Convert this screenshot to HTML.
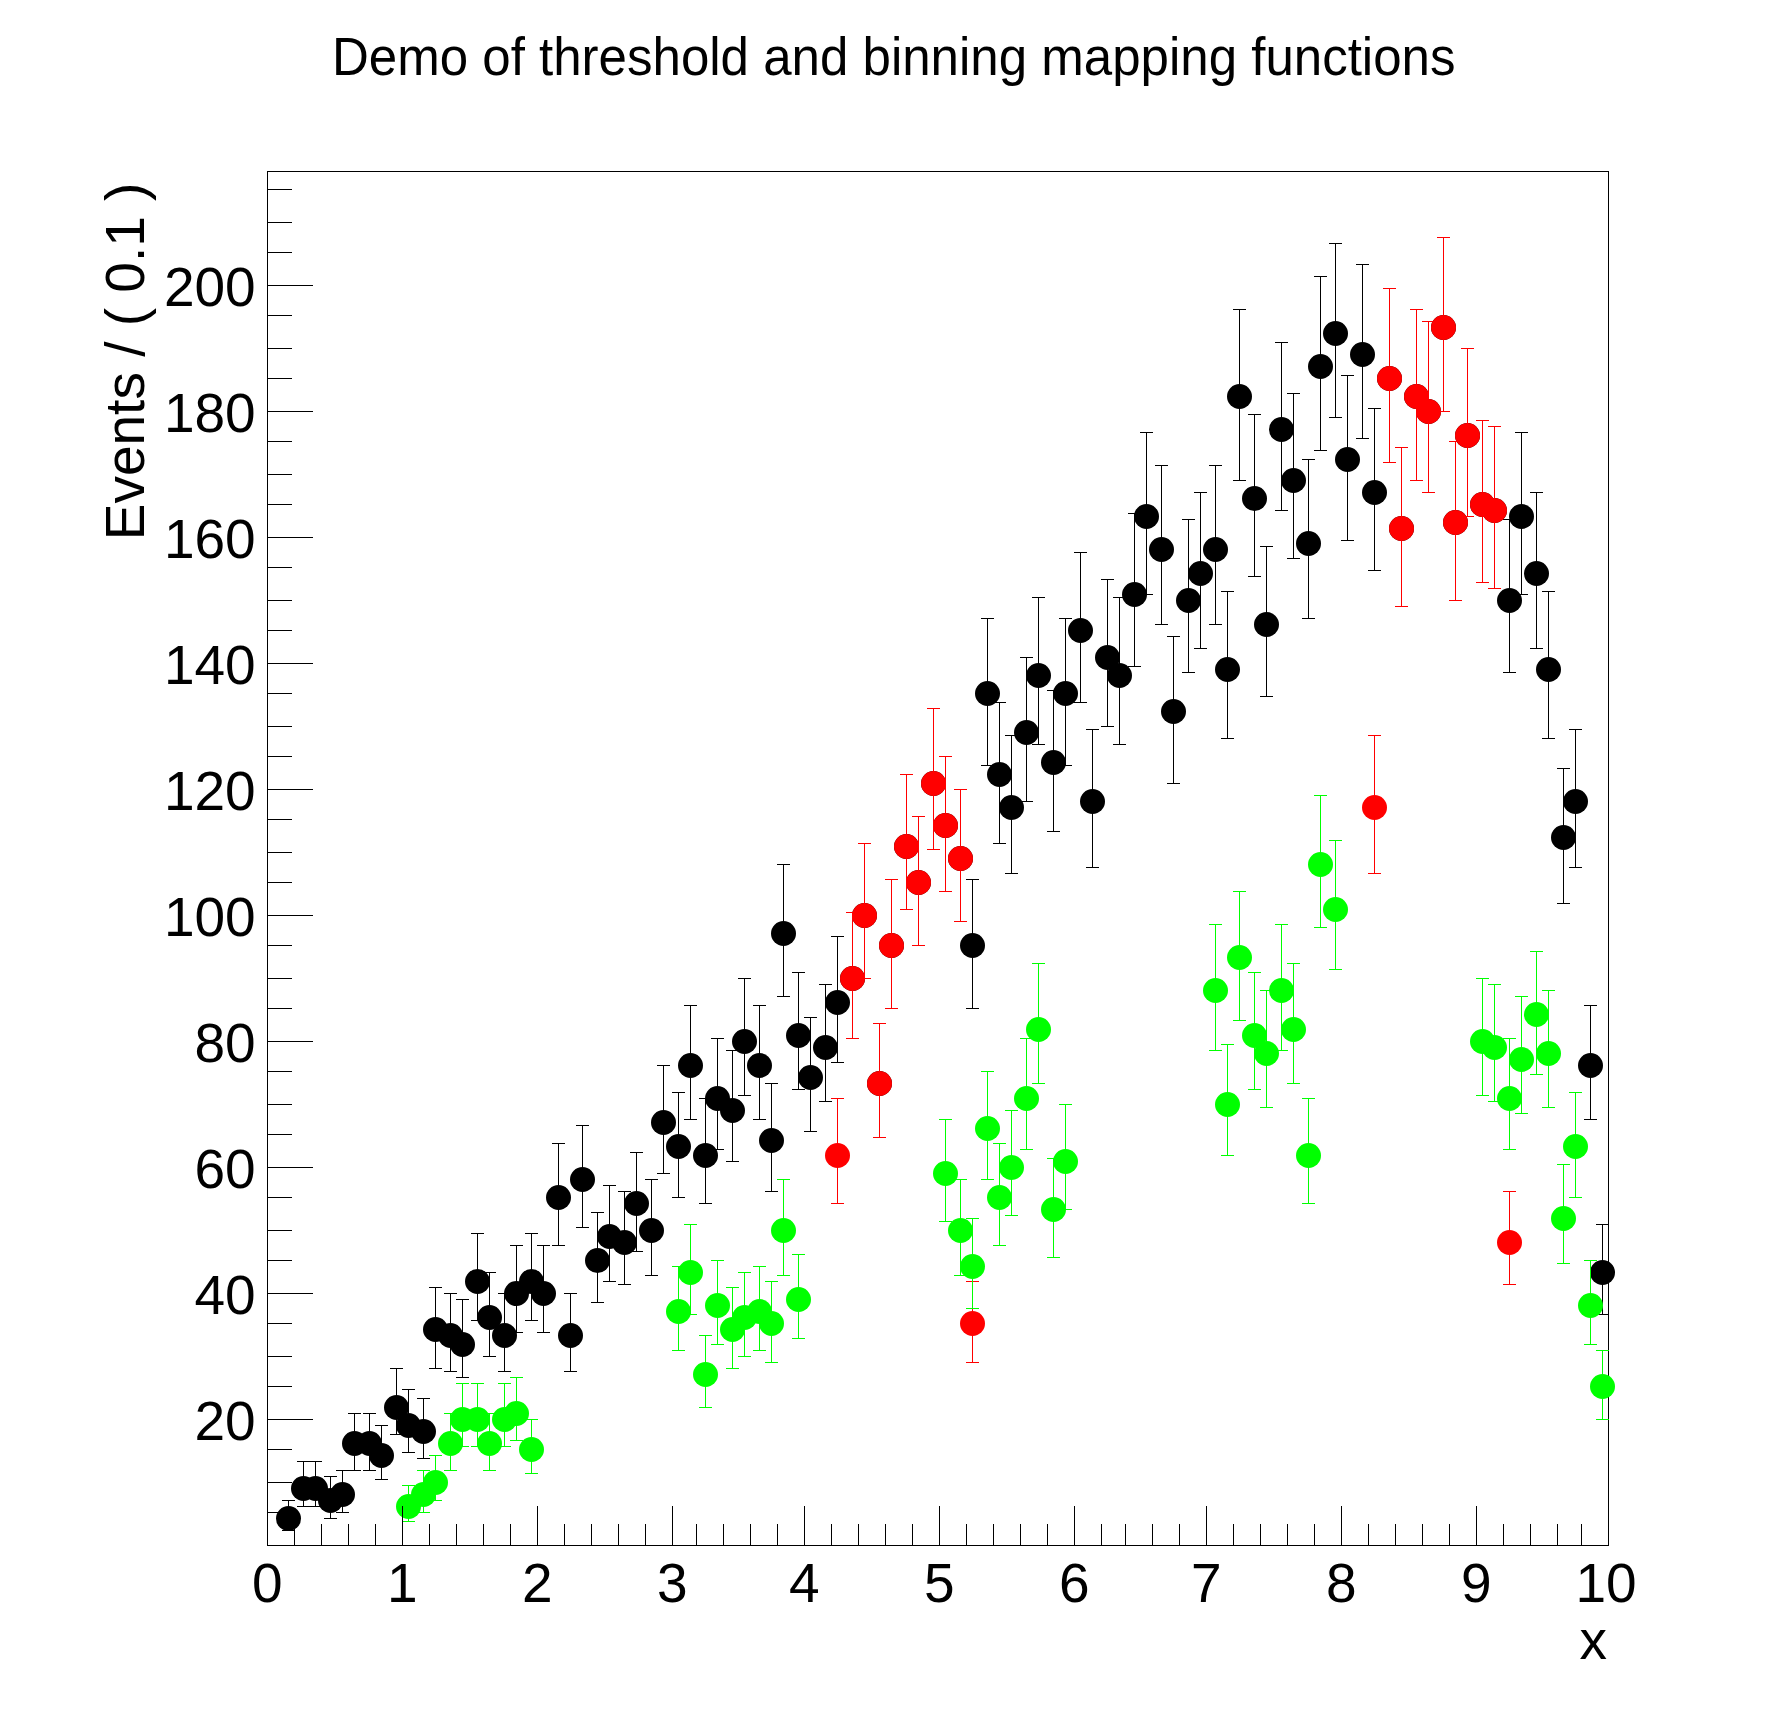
<!DOCTYPE html>
<html><head><meta charset="utf-8"><title>Demo of threshold and binning mapping functions</title>
<style>html,body{margin:0;padding:0;background:#fff;overflow:hidden}svg{display:block}text{font-family:"Liberation Sans",sans-serif;fill:#000}</style></head>
<body>
<svg width="1788" height="1716" viewBox="0 0 1788 1716">
<rect width="1788" height="1716" fill="#fff"/>
<defs><clipPath id="fc"><rect x="267" y="171" width="1342" height="1375"/></clipPath></defs>
<path d="M267.5 171.5H1608.5V1545.5H267.5Z" stroke="#000" stroke-width="1" fill="none" shape-rendering="crispEdges"/>
<path clip-path="url(#fc)" d="M288.5 1500V1531M282.0 1500.5h13M282.0 1530.5h13M303.5 1461V1507M297.0 1461.5h13M297.0 1506.5h13M315.5 1461V1507M309.0 1461.5h13M309.0 1506.5h13M330.5 1476V1519M324.0 1476.5h13M324.0 1518.5h13M342.5 1470V1513M336.0 1470.5h13M336.0 1512.5h13M354.5 1413V1471M348.0 1413.5h13M348.0 1470.5h13M369.5 1413V1471M363.0 1413.5h13M363.0 1470.5h13M381.5 1425V1480M375.0 1425.5h13M375.0 1479.5h13M396.5 1368V1435M390.0 1368.5h13M390.0 1434.5h13M408.5 1389V1453M402.0 1389.5h13M402.0 1452.5h13M423.5 1398V1459M417.0 1398.5h13M417.0 1458.5h13M435.5 1287V1369M429.0 1287.5h13M429.0 1368.5h13M450.5 1293V1372M444.0 1293.5h13M444.0 1371.5h13M462.5 1299V1378M456.0 1299.5h13M456.0 1377.5h13M477.5 1233V1321M471.0 1233.5h13M471.0 1320.5h13M489.5 1272V1357M483.0 1272.5h13M483.0 1356.5h13M504.5 1293V1372M498.0 1293.5h13M498.0 1371.5h13M516.5 1245V1333M510.0 1245.5h13M510.0 1332.5h13M531.5 1233V1321M525.0 1233.5h13M525.0 1320.5h13M543.5 1245V1333M537.0 1245.5h13M537.0 1332.5h13M558.5 1143V1246M552.0 1143.5h13M552.0 1245.5h13M570.5 1293V1372M564.0 1293.5h13M564.0 1371.5h13M582.5 1125V1228M576.0 1125.5h13M576.0 1227.5h13M597.5 1212V1303M591.0 1212.5h13M591.0 1302.5h13M609.5 1185V1282M603.0 1185.5h13M603.0 1281.5h13M624.5 1191V1285M618.0 1191.5h13M618.0 1284.5h13M636.5 1152V1252M630.0 1152.5h13M630.0 1251.5h13M651.5 1179V1276M645.0 1179.5h13M645.0 1275.5h13M663.5 1065V1174M657.0 1065.5h13M657.0 1173.5h13M678.5 1092V1198M672.0 1092.5h13M672.0 1197.5h13M690.5 1005V1120M684.0 1005.5h13M684.0 1119.5h13M705.5 1098V1204M699.0 1098.5h13M699.0 1203.5h13M717.5 1038V1150M711.0 1038.5h13M711.0 1149.5h13M732.5 1050V1162M726.0 1050.5h13M726.0 1161.5h13M744.5 978V1096M738.0 978.5h13M738.0 1095.5h13M759.5 1005V1120M753.0 1005.5h13M753.0 1119.5h13M771.5 1083V1192M765.0 1083.5h13M765.0 1191.5h13M783.5 864V997M777.0 864.5h13M777.0 996.5h13M798.5 972V1090M792.0 972.5h13M792.0 1089.5h13M810.5 1017V1132M804.0 1017.5h13M804.0 1131.5h13M825.5 984V1102M819.0 984.5h13M819.0 1101.5h13M837.5 936V1063M831.0 936.5h13M831.0 1062.5h13M852.5 912V1039M846.0 912.5h13M846.0 1038.5h13M864.5 843V979M858.0 843.5h13M858.0 978.5h13M879.5 1023V1138M873.0 1023.5h13M873.0 1137.5h13M891.5 879V1009M885.0 879.5h13M885.0 1008.5h13M906.5 774V910M900.0 774.5h13M900.0 909.5h13M918.5 816V946M912.0 816.5h13M912.0 945.5h13M933.5 708V850M927.0 708.5h13M927.0 849.5h13M945.5 756V892M939.0 756.5h13M939.0 891.5h13M960.5 789V922M954.0 789.5h13M954.0 921.5h13M972.5 879V1009M966.0 879.5h13M966.0 1008.5h13M987.5 618V766M981.0 618.5h13M981.0 765.5h13M999.5 702V844M993.0 702.5h13M993.0 843.5h13M1011.5 735V874M1005.0 735.5h13M1005.0 873.5h13M1026.5 657V802M1020.0 657.5h13M1020.0 801.5h13M1038.5 597V745M1032.0 597.5h13M1032.0 744.5h13M1053.5 690V832M1047.0 690.5h13M1047.0 831.5h13M1065.5 618V766M1059.0 618.5h13M1059.0 765.5h13M1080.5 552V703M1074.0 552.5h13M1074.0 702.5h13M1092.5 729V868M1086.0 729.5h13M1086.0 867.5h13M1107.5 579V727M1101.0 579.5h13M1101.0 726.5h13M1119.5 597V745M1113.0 597.5h13M1113.0 744.5h13M1134.5 513V667M1128.0 513.5h13M1128.0 666.5h13M1146.5 432V595M1140.0 432.5h13M1140.0 594.5h13M1161.5 465V625M1155.0 465.5h13M1155.0 624.5h13M1173.5 636V784M1167.0 636.5h13M1167.0 783.5h13M1188.5 519V673M1182.0 519.5h13M1182.0 672.5h13M1200.5 492V649M1194.0 492.5h13M1194.0 648.5h13M1215.5 465V625M1209.0 465.5h13M1209.0 624.5h13M1227.5 591V739M1221.0 591.5h13M1221.0 738.5h13M1239.5 309V481M1233.0 309.5h13M1233.0 480.5h13M1254.5 414V577M1248.0 414.5h13M1248.0 576.5h13M1266.5 546V697M1260.0 546.5h13M1260.0 696.5h13M1281.5 342V511M1275.0 342.5h13M1275.0 510.5h13M1293.5 393V559M1287.0 393.5h13M1287.0 558.5h13M1308.5 459V619M1302.0 459.5h13M1302.0 618.5h13M1320.5 276V451M1314.0 276.5h13M1314.0 450.5h13M1335.5 243V418M1329.0 243.5h13M1329.0 417.5h13M1347.5 375V541M1341.0 375.5h13M1341.0 540.5h13M1362.5 264V439M1356.0 264.5h13M1356.0 438.5h13M1374.5 408V571M1368.0 408.5h13M1368.0 570.5h13M1389.5 288V463M1383.0 288.5h13M1383.0 462.5h13M1401.5 447V607M1395.0 447.5h13M1395.0 606.5h13M1416.5 309V481M1410.0 309.5h13M1410.0 480.5h13M1428.5 321V493M1422.0 321.5h13M1422.0 492.5h13M1443.5 237V412M1437.0 237.5h13M1437.0 411.5h13M1455.5 441V601M1449.0 441.5h13M1449.0 600.5h13M1467.5 348V517M1461.0 348.5h13M1461.0 516.5h13M1482.5 420V583M1476.0 420.5h13M1476.0 582.5h13M1494.5 426V589M1488.0 426.5h13M1488.0 588.5h13M1509.5 519V673M1503.0 519.5h13M1503.0 672.5h13M1521.5 432V595M1515.0 432.5h13M1515.0 594.5h13M1536.5 492V649M1530.0 492.5h13M1530.0 648.5h13M1548.5 591V739M1542.0 591.5h13M1542.0 738.5h13M1563.5 768V904M1557.0 768.5h13M1557.0 903.5h13M1575.5 729V868M1569.0 729.5h13M1569.0 867.5h13M1590.5 1005V1120M1584.0 1005.5h13M1584.0 1119.5h13M1602.5 1224V1315M1596.0 1224.5h13M1596.0 1314.5h13" stroke="#000" stroke-width="1" fill="none" shape-rendering="crispEdges"/>
<g fill="#000"><circle cx="288.5" cy="1518.5" r="12.5"/><circle cx="303.5" cy="1488.5" r="12.5"/><circle cx="315.5" cy="1488.5" r="12.5"/><circle cx="330.5" cy="1500.5" r="12.5"/><circle cx="342.5" cy="1494.5" r="12.5"/><circle cx="354.5" cy="1443.5" r="12.5"/><circle cx="369.5" cy="1443.5" r="12.5"/><circle cx="381.5" cy="1455.5" r="12.5"/><circle cx="396.5" cy="1407.5" r="12.5"/><circle cx="408.5" cy="1425.5" r="12.5"/><circle cx="423.5" cy="1431.5" r="12.5"/><circle cx="435.5" cy="1329.5" r="12.5"/><circle cx="450.5" cy="1335.5" r="12.5"/><circle cx="462.5" cy="1344.5" r="12.5"/><circle cx="477.5" cy="1281.5" r="12.5"/><circle cx="489.5" cy="1317.5" r="12.5"/><circle cx="504.5" cy="1335.5" r="12.5"/><circle cx="516.5" cy="1293.5" r="12.5"/><circle cx="531.5" cy="1281.5" r="12.5"/><circle cx="543.5" cy="1293.5" r="12.5"/><circle cx="558.5" cy="1197.5" r="12.5"/><circle cx="570.5" cy="1335.5" r="12.5"/><circle cx="582.5" cy="1179.5" r="12.5"/><circle cx="597.5" cy="1260.5" r="12.5"/><circle cx="609.5" cy="1236.5" r="12.5"/><circle cx="624.5" cy="1242.5" r="12.5"/><circle cx="636.5" cy="1203.5" r="12.5"/><circle cx="651.5" cy="1230.5" r="12.5"/><circle cx="663.5" cy="1122.5" r="12.5"/><circle cx="678.5" cy="1146.5" r="12.5"/><circle cx="690.5" cy="1065.5" r="12.5"/><circle cx="705.5" cy="1155.5" r="12.5"/><circle cx="717.5" cy="1098.5" r="12.5"/><circle cx="732.5" cy="1110.5" r="12.5"/><circle cx="744.5" cy="1041.5" r="12.5"/><circle cx="759.5" cy="1065.5" r="12.5"/><circle cx="771.5" cy="1140.5" r="12.5"/><circle cx="783.5" cy="933.5" r="12.5"/><circle cx="798.5" cy="1035.5" r="12.5"/><circle cx="810.5" cy="1077.5" r="12.5"/><circle cx="825.5" cy="1047.5" r="12.5"/><circle cx="837.5" cy="1002.5" r="12.5"/><circle cx="852.5" cy="978.5" r="12.5"/><circle cx="864.5" cy="915.5" r="12.5"/><circle cx="879.5" cy="1083.5" r="12.5"/><circle cx="891.5" cy="945.5" r="12.5"/><circle cx="906.5" cy="846.5" r="12.5"/><circle cx="918.5" cy="882.5" r="12.5"/><circle cx="933.5" cy="783.5" r="12.5"/><circle cx="945.5" cy="825.5" r="12.5"/><circle cx="960.5" cy="858.5" r="12.5"/><circle cx="972.5" cy="945.5" r="12.5"/><circle cx="987.5" cy="693.5" r="12.5"/><circle cx="999.5" cy="774.5" r="12.5"/><circle cx="1011.5" cy="807.5" r="12.5"/><circle cx="1026.5" cy="732.5" r="12.5"/><circle cx="1038.5" cy="675.5" r="12.5"/><circle cx="1053.5" cy="762.5" r="12.5"/><circle cx="1065.5" cy="693.5" r="12.5"/><circle cx="1080.5" cy="630.5" r="12.5"/><circle cx="1092.5" cy="801.5" r="12.5"/><circle cx="1107.5" cy="657.5" r="12.5"/><circle cx="1119.5" cy="675.5" r="12.5"/><circle cx="1134.5" cy="594.5" r="12.5"/><circle cx="1146.5" cy="516.5" r="12.5"/><circle cx="1161.5" cy="549.5" r="12.5"/><circle cx="1173.5" cy="711.5" r="12.5"/><circle cx="1188.5" cy="600.5" r="12.5"/><circle cx="1200.5" cy="573.5" r="12.5"/><circle cx="1215.5" cy="549.5" r="12.5"/><circle cx="1227.5" cy="669.5" r="12.5"/><circle cx="1239.5" cy="396.5" r="12.5"/><circle cx="1254.5" cy="498.5" r="12.5"/><circle cx="1266.5" cy="624.5" r="12.5"/><circle cx="1281.5" cy="429.5" r="12.5"/><circle cx="1293.5" cy="480.5" r="12.5"/><circle cx="1308.5" cy="543.5" r="12.5"/><circle cx="1320.5" cy="366.5" r="12.5"/><circle cx="1335.5" cy="333.5" r="12.5"/><circle cx="1347.5" cy="459.5" r="12.5"/><circle cx="1362.5" cy="354.5" r="12.5"/><circle cx="1374.5" cy="492.5" r="12.5"/><circle cx="1389.5" cy="378.5" r="12.5"/><circle cx="1401.5" cy="528.5" r="12.5"/><circle cx="1416.5" cy="396.5" r="12.5"/><circle cx="1428.5" cy="411.5" r="12.5"/><circle cx="1443.5" cy="327.5" r="12.5"/><circle cx="1455.5" cy="522.5" r="12.5"/><circle cx="1467.5" cy="435.5" r="12.5"/><circle cx="1482.5" cy="504.5" r="12.5"/><circle cx="1494.5" cy="510.5" r="12.5"/><circle cx="1509.5" cy="600.5" r="12.5"/><circle cx="1521.5" cy="516.5" r="12.5"/><circle cx="1536.5" cy="573.5" r="12.5"/><circle cx="1548.5" cy="669.5" r="12.5"/><circle cx="1563.5" cy="837.5" r="12.5"/><circle cx="1575.5" cy="801.5" r="12.5"/><circle cx="1590.5" cy="1065.5" r="12.5"/><circle cx="1602.5" cy="1272.5" r="12.5"/></g>
<path clip-path="url(#fc)" d="M837.5 1098V1204M831.0 1098.5h13M831.0 1203.5h13M852.5 912V1039M846.0 912.5h13M846.0 1038.5h13M864.5 843V979M858.0 843.5h13M858.0 978.5h13M879.5 1023V1138M873.0 1023.5h13M873.0 1137.5h13M891.5 879V1009M885.0 879.5h13M885.0 1008.5h13M906.5 774V910M900.0 774.5h13M900.0 909.5h13M918.5 816V946M912.0 816.5h13M912.0 945.5h13M933.5 708V850M927.0 708.5h13M927.0 849.5h13M945.5 756V892M939.0 756.5h13M939.0 891.5h13M960.5 789V922M954.0 789.5h13M954.0 921.5h13M972.5 1281V1363M966.0 1281.5h13M966.0 1362.5h13M1374.5 735V874M1368.0 735.5h13M1368.0 873.5h13M1389.5 288V463M1383.0 288.5h13M1383.0 462.5h13M1401.5 447V607M1395.0 447.5h13M1395.0 606.5h13M1416.5 309V481M1410.0 309.5h13M1410.0 480.5h13M1428.5 321V493M1422.0 321.5h13M1422.0 492.5h13M1443.5 237V412M1437.0 237.5h13M1437.0 411.5h13M1455.5 441V601M1449.0 441.5h13M1449.0 600.5h13M1467.5 348V517M1461.0 348.5h13M1461.0 516.5h13M1482.5 420V583M1476.0 420.5h13M1476.0 582.5h13M1494.5 426V589M1488.0 426.5h13M1488.0 588.5h13M1509.5 1191V1285M1503.0 1191.5h13M1503.0 1284.5h13" stroke="#ff0000" stroke-width="1" fill="none" shape-rendering="crispEdges"/>
<g fill="#ff0000"><circle cx="837.5" cy="1155.5" r="12.5"/><circle cx="852.5" cy="978.5" r="12.5"/><circle cx="864.5" cy="915.5" r="12.5"/><circle cx="879.5" cy="1083.5" r="12.5"/><circle cx="891.5" cy="945.5" r="12.5"/><circle cx="906.5" cy="846.5" r="12.5"/><circle cx="918.5" cy="882.5" r="12.5"/><circle cx="933.5" cy="783.5" r="12.5"/><circle cx="945.5" cy="825.5" r="12.5"/><circle cx="960.5" cy="858.5" r="12.5"/><circle cx="972.5" cy="1323.5" r="12.5"/><circle cx="1374.5" cy="807.5" r="12.5"/><circle cx="1389.5" cy="378.5" r="12.5"/><circle cx="1401.5" cy="528.5" r="12.5"/><circle cx="1416.5" cy="396.5" r="12.5"/><circle cx="1428.5" cy="411.5" r="12.5"/><circle cx="1443.5" cy="327.5" r="12.5"/><circle cx="1455.5" cy="522.5" r="12.5"/><circle cx="1467.5" cy="435.5" r="12.5"/><circle cx="1482.5" cy="504.5" r="12.5"/><circle cx="1494.5" cy="510.5" r="12.5"/><circle cx="1509.5" cy="1242.5" r="12.5"/></g>
<path clip-path="url(#fc)" d="M408.5 1485V1522M402.0 1485.5h13M402.0 1521.5h13M423.5 1470V1513M417.0 1470.5h13M417.0 1512.5h13M435.5 1455V1501M429.0 1455.5h13M429.0 1500.5h13M450.5 1413V1471M444.0 1413.5h13M444.0 1470.5h13M462.5 1383V1447M456.0 1383.5h13M456.0 1446.5h13M477.5 1383V1447M471.0 1383.5h13M471.0 1446.5h13M489.5 1413V1471M483.0 1413.5h13M483.0 1470.5h13M504.5 1383V1447M498.0 1383.5h13M498.0 1446.5h13M516.5 1377V1441M510.0 1377.5h13M510.0 1440.5h13M531.5 1419V1474M525.0 1419.5h13M525.0 1473.5h13M678.5 1266V1351M672.0 1266.5h13M672.0 1350.5h13M690.5 1224V1315M684.0 1224.5h13M684.0 1314.5h13M705.5 1335V1408M699.0 1335.5h13M699.0 1407.5h13M717.5 1260V1345M711.0 1260.5h13M711.0 1344.5h13M732.5 1287V1369M726.0 1287.5h13M726.0 1368.5h13M744.5 1272V1357M738.0 1272.5h13M738.0 1356.5h13M759.5 1266V1351M753.0 1266.5h13M753.0 1350.5h13M771.5 1281V1363M765.0 1281.5h13M765.0 1362.5h13M783.5 1179V1276M777.0 1179.5h13M777.0 1275.5h13M798.5 1254V1339M792.0 1254.5h13M792.0 1338.5h13M945.5 1119V1222M939.0 1119.5h13M939.0 1221.5h13M960.5 1179V1276M954.0 1179.5h13M954.0 1275.5h13M972.5 1218V1309M966.0 1218.5h13M966.0 1308.5h13M987.5 1071V1180M981.0 1071.5h13M981.0 1179.5h13M999.5 1143V1246M993.0 1143.5h13M993.0 1245.5h13M1011.5 1110V1216M1005.0 1110.5h13M1005.0 1215.5h13M1026.5 1038V1150M1020.0 1038.5h13M1020.0 1149.5h13M1038.5 963V1084M1032.0 963.5h13M1032.0 1083.5h13M1053.5 1158V1258M1047.0 1158.5h13M1047.0 1257.5h13M1065.5 1104V1210M1059.0 1104.5h13M1059.0 1209.5h13M1215.5 924V1051M1209.0 924.5h13M1209.0 1050.5h13M1227.5 1044V1156M1221.0 1044.5h13M1221.0 1155.5h13M1239.5 891V1021M1233.0 891.5h13M1233.0 1020.5h13M1254.5 972V1090M1248.0 972.5h13M1248.0 1089.5h13M1266.5 990V1108M1260.0 990.5h13M1260.0 1107.5h13M1281.5 924V1051M1275.0 924.5h13M1275.0 1050.5h13M1293.5 963V1084M1287.0 963.5h13M1287.0 1083.5h13M1308.5 1098V1204M1302.0 1098.5h13M1302.0 1203.5h13M1320.5 795V928M1314.0 795.5h13M1314.0 927.5h13M1335.5 840V970M1329.0 840.5h13M1329.0 969.5h13M1482.5 978V1096M1476.0 978.5h13M1476.0 1095.5h13M1494.5 984V1102M1488.0 984.5h13M1488.0 1101.5h13M1509.5 1038V1150M1503.0 1038.5h13M1503.0 1149.5h13M1521.5 996V1114M1515.0 996.5h13M1515.0 1113.5h13M1536.5 951V1075M1530.0 951.5h13M1530.0 1074.5h13M1548.5 990V1108M1542.0 990.5h13M1542.0 1107.5h13M1563.5 1164V1264M1557.0 1164.5h13M1557.0 1263.5h13M1575.5 1092V1198M1569.0 1092.5h13M1569.0 1197.5h13M1590.5 1260V1345M1584.0 1260.5h13M1584.0 1344.5h13M1602.5 1350V1420M1596.0 1350.5h13M1596.0 1419.5h13" stroke="#00ff00" stroke-width="1" fill="none" shape-rendering="crispEdges"/>
<g fill="#00ff00"><circle cx="408.5" cy="1506.5" r="12.5"/><circle cx="423.5" cy="1494.5" r="12.5"/><circle cx="435.5" cy="1482.5" r="12.5"/><circle cx="450.5" cy="1443.5" r="12.5"/><circle cx="462.5" cy="1419.5" r="12.5"/><circle cx="477.5" cy="1419.5" r="12.5"/><circle cx="489.5" cy="1443.5" r="12.5"/><circle cx="504.5" cy="1419.5" r="12.5"/><circle cx="516.5" cy="1413.5" r="12.5"/><circle cx="531.5" cy="1449.5" r="12.5"/><circle cx="678.5" cy="1311.5" r="12.5"/><circle cx="690.5" cy="1272.5" r="12.5"/><circle cx="705.5" cy="1374.5" r="12.5"/><circle cx="717.5" cy="1305.5" r="12.5"/><circle cx="732.5" cy="1329.5" r="12.5"/><circle cx="744.5" cy="1317.5" r="12.5"/><circle cx="759.5" cy="1311.5" r="12.5"/><circle cx="771.5" cy="1323.5" r="12.5"/><circle cx="783.5" cy="1230.5" r="12.5"/><circle cx="798.5" cy="1299.5" r="12.5"/><circle cx="945.5" cy="1173.5" r="12.5"/><circle cx="960.5" cy="1230.5" r="12.5"/><circle cx="972.5" cy="1266.5" r="12.5"/><circle cx="987.5" cy="1128.5" r="12.5"/><circle cx="999.5" cy="1197.5" r="12.5"/><circle cx="1011.5" cy="1167.5" r="12.5"/><circle cx="1026.5" cy="1098.5" r="12.5"/><circle cx="1038.5" cy="1029.5" r="12.5"/><circle cx="1053.5" cy="1209.5" r="12.5"/><circle cx="1065.5" cy="1161.5" r="12.5"/><circle cx="1215.5" cy="990.5" r="12.5"/><circle cx="1227.5" cy="1104.5" r="12.5"/><circle cx="1239.5" cy="957.5" r="12.5"/><circle cx="1254.5" cy="1035.5" r="12.5"/><circle cx="1266.5" cy="1053.5" r="12.5"/><circle cx="1281.5" cy="990.5" r="12.5"/><circle cx="1293.5" cy="1029.5" r="12.5"/><circle cx="1308.5" cy="1155.5" r="12.5"/><circle cx="1320.5" cy="864.5" r="12.5"/><circle cx="1335.5" cy="909.5" r="12.5"/><circle cx="1482.5" cy="1041.5" r="12.5"/><circle cx="1494.5" cy="1047.5" r="12.5"/><circle cx="1509.5" cy="1098.5" r="12.5"/><circle cx="1521.5" cy="1059.5" r="12.5"/><circle cx="1536.5" cy="1014.5" r="12.5"/><circle cx="1548.5" cy="1053.5" r="12.5"/><circle cx="1563.5" cy="1218.5" r="12.5"/><circle cx="1575.5" cy="1146.5" r="12.5"/><circle cx="1590.5" cy="1305.5" r="12.5"/><circle cx="1602.5" cy="1386.5" r="12.5"/></g>
<path d="M267.5 171V1545.5H1609M267.5 1546V1506M294.5 1546V1524M321.5 1546V1524M348.5 1546V1524M375.5 1546V1524M402.5 1546V1506M429.5 1546V1524M456.5 1546V1524M483.5 1546V1524M510.5 1546V1524M537.5 1546V1506M564.5 1546V1524M591.5 1546V1524M618.5 1546V1524M645.5 1546V1524M672.5 1546V1506M696.5 1546V1524M723.5 1546V1524M750.5 1546V1524M777.5 1546V1524M804.5 1546V1506M831.5 1546V1524M858.5 1546V1524M885.5 1546V1524M912.5 1546V1524M939.5 1546V1506M966.5 1546V1524M993.5 1546V1524M1020.5 1546V1524M1047.5 1546V1524M1074.5 1546V1506M1101.5 1546V1524M1125.5 1546V1524M1152.5 1546V1524M1179.5 1546V1524M1206.5 1546V1506M1233.5 1546V1524M1260.5 1546V1524M1287.5 1546V1524M1314.5 1546V1524M1341.5 1546V1506M1368.5 1546V1524M1395.5 1546V1524M1422.5 1546V1524M1449.5 1546V1524M1476.5 1546V1506M1503.5 1546V1524M1530.5 1546V1524M1557.5 1546V1524M1581.5 1546V1524M1608.5 1546V1506M267 1512.5h25M267 1482.5h25M267 1449.5h25M267 1419.5h46M267 1386.5h25M267 1356.5h25M267 1323.5h25M267 1293.5h46M267 1260.5h25M267 1230.5h25M267 1197.5h25M267 1167.5h46M267 1134.5h25M267 1104.5h25M267 1071.5h25M267 1041.5h46M267 1008.5h25M267 978.5h25M267 945.5h25M267 915.5h46M267 882.5h25M267 852.5h25M267 819.5h25M267 789.5h46M267 756.5h25M267 726.5h25M267 693.5h25M267 663.5h46M267 630.5h25M267 600.5h25M267 567.5h25M267 537.5h46M267 504.5h25M267 474.5h25M267 441.5h25M267 411.5h46M267 378.5h25M267 348.5h25M267 315.5h25M267 285.5h46M267 252.5h25M267 222.5h25M267 189.5h25" stroke="#000" stroke-width="1" fill="none" shape-rendering="crispEdges"/>
<g font-size="55" text-anchor="middle"><text x="267.2" y="1602">0</text><text x="402.2" y="1602">1</text><text x="537.2" y="1602">2</text><text x="672.2" y="1602">3</text><text x="804.2" y="1602">4</text><text x="939.2" y="1602">5</text><text x="1074.2" y="1602">6</text><text x="1206.2" y="1602">7</text><text x="1341.2" y="1602">8</text><text x="1476.2" y="1602">9</text><text x="1606.0" y="1602">10</text></g>
<g font-size="55" text-anchor="end"><text x="255.7" y="1439.9">20</text><text x="255.7" y="1313.9">40</text><text x="255.7" y="1187.9">60</text><text x="255.7" y="1061.9">80</text><text x="255.7" y="935.9">100</text><text x="255.7" y="809.9">120</text><text x="255.7" y="683.9">140</text><text x="255.7" y="557.9">160</text><text x="255.7" y="431.9">180</text><text x="255.7" y="305.9">200</text></g>
<text x="1607" y="1658.5" font-size="55" text-anchor="end">x</text>
<text transform="translate(144 182.6) rotate(-90)" font-size="55" text-anchor="end">Events / ( 0.1 )</text>
<text x="332" y="74.5" font-size="53" textLength="1123.5" lengthAdjust="spacingAndGlyphs">Demo of threshold and binning mapping functions</text>
</svg>
</body></html>
